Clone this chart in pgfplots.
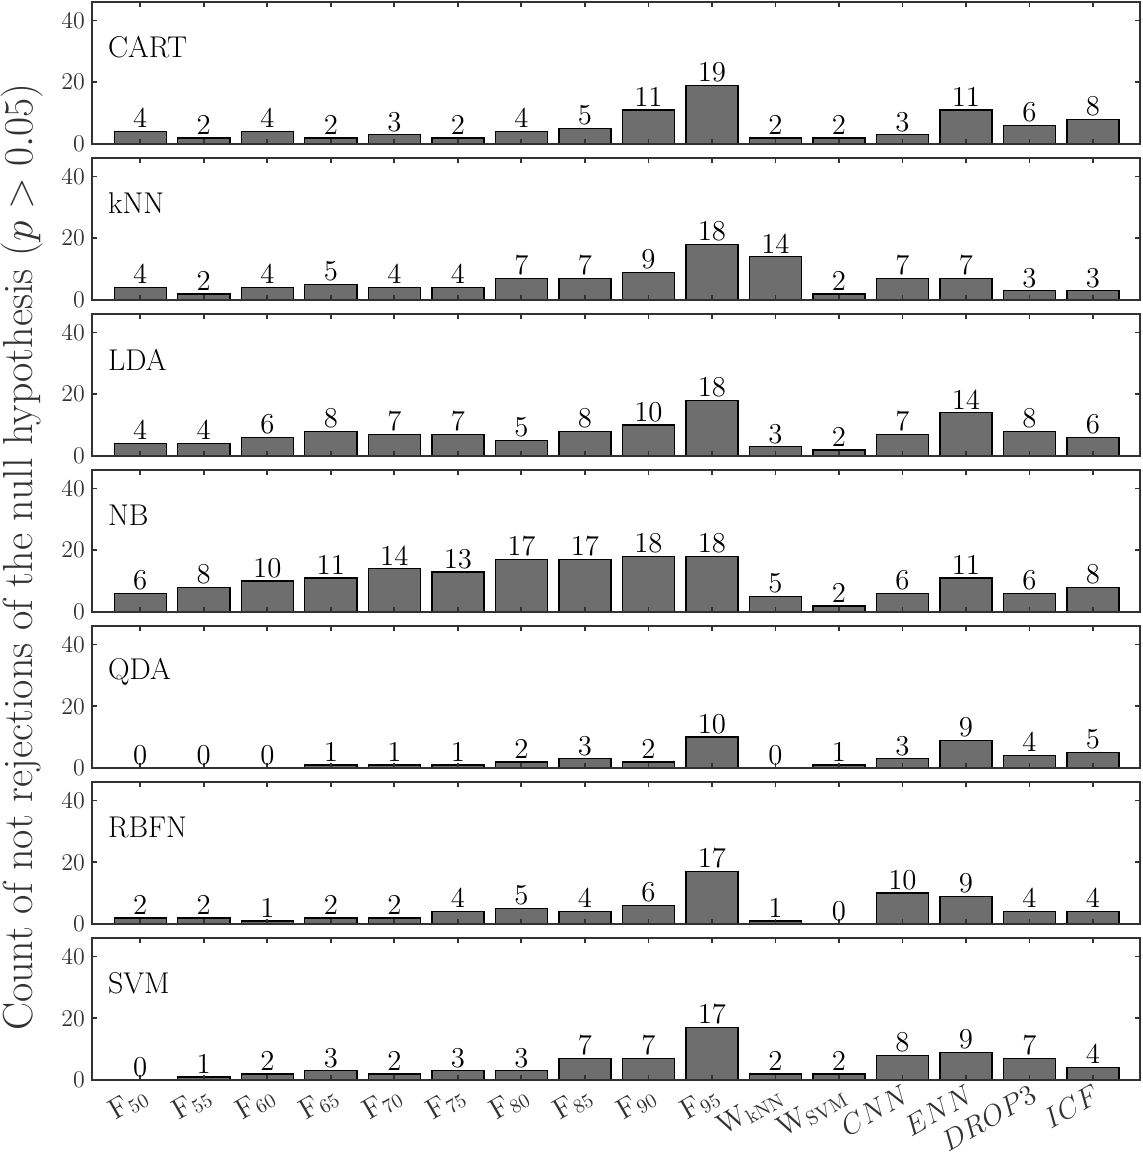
\documentclass[border=0pt]{standalone}
\usepackage{pgfplots}
\pgfplotsset{compat=1.18}
\definecolor{bargray}{RGB}{110,110,110}
\definecolor{axgray}{RGB}{50,50,50}
\pgfplotsset{panel/.style={
  width=524pt, height=71pt, scale only axis,
  ymin=0, ymax=46, xmin=-0.76, xmax=15.74,
  ybar, bar width=0.82, bar shift=0pt,
  ytick={0,20,40}, xtick={0,...,15}, xticklabels={},
  tick align=inside, tick pos=both,
  major tick length=2.4pt,
  axis line style={draw=axgray, line width=1pt},
  every tick/.style={draw=axgray, line width=0.9pt},
  axis on top,
  nodes near coords,
  nodes near coords style={font=\fontsize{15.5}{16}\selectfont, inner sep=1.5pt, text=black},
  yticklabel style={font=\fontsize{12}{12}\selectfont, text=axgray},
  clip=false,
  anchor=north west,
}}
\newcommand{\panelname}[1]{\node[anchor=west, font=\fontsize{15}{15}\selectfont, inner sep=0pt] at (rel axis cs:0.015,0.68) {#1};}
\begin{document}
\begin{tikzpicture}
\begin{axis}[panel, at={(0pt,0pt)}]
\addplot[fill=bargray, draw=black, line width=0.7pt] coordinates {(0,4) (1,2) (2,4) (3,2) (4,3) (5,2) (6,4) (7,5) (8,11) (9,19) (10,2) (11,2) (12,3) (13,11) (14,6) (15,8)};
\panelname{CART}
\end{axis}
\begin{axis}[panel, at={(0pt,-78pt)}]
\addplot[fill=bargray, draw=black, line width=0.7pt] coordinates {(0,4) (1,2) (2,4) (3,5) (4,4) (5,4) (6,7) (7,7) (8,9) (9,18) (10,14) (11,2) (12,7) (13,7) (14,3) (15,3)};
\panelname{kNN}
\end{axis}
\begin{axis}[panel, at={(0pt,-156pt)}]
\addplot[fill=bargray, draw=black, line width=0.7pt] coordinates {(0,4) (1,4) (2,6) (3,8) (4,7) (5,7) (6,5) (7,8) (8,10) (9,18) (10,3) (11,2) (12,7) (13,14) (14,8) (15,6)};
\panelname{LDA}
\end{axis}
\begin{axis}[panel, at={(0pt,-234pt)}]
\addplot[fill=bargray, draw=black, line width=0.7pt] coordinates {(0,6) (1,8) (2,10) (3,11) (4,14) (5,13) (6,17) (7,17) (8,18) (9,18) (10,5) (11,2) (12,6) (13,11) (14,6) (15,8)};
\panelname{NB}
\end{axis}
\begin{axis}[panel, at={(0pt,-312pt)}]
\addplot[fill=bargray, draw=black, line width=0.7pt] coordinates {(0,0) (1,0) (2,0) (3,1) (4,1) (5,1) (6,2) (7,3) (8,2) (9,10) (10,0) (11,1) (12,3) (13,9) (14,4) (15,5)};
\panelname{QDA}
\end{axis}
\begin{axis}[panel, at={(0pt,-390pt)}]
\addplot[fill=bargray, draw=black, line width=0.7pt] coordinates {(0,2) (1,2) (2,1) (3,2) (4,2) (5,4) (6,5) (7,4) (8,6) (9,17) (10,1) (11,0) (12,10) (13,9) (14,4) (15,4)};
\panelname{RBFN}
\end{axis}
\begin{axis}[panel, at={(0pt,-468pt)},
  xticklabels={$\mathrm{F}_{50}$,$\mathrm{F}_{55}$,$\mathrm{F}_{60}$,$\mathrm{F}_{65}$,$\mathrm{F}_{70}$,$\mathrm{F}_{75}$,$\mathrm{F}_{80}$,$\mathrm{F}_{85}$,$\mathrm{F}_{90}$,$\mathrm{F}_{95}$,$\mathrm{W}_{\mathrm{kNN}}$,$\mathrm{W}_{\mathrm{SVM}}$,$CNN$,$ENN$,$DROP3$,$ICF$},
  xticklabel style={rotate=30, anchor=north east, font=\fontsize{14.5}{14.5}\selectfont, text=axgray, inner sep=1pt}]
\addplot[fill=bargray, draw=black, line width=0.7pt] coordinates {(0,0) (1,1) (2,2) (3,3) (4,2) (5,3) (6,3) (7,7) (8,7) (9,17) (10,2) (11,2) (12,8) (13,9) (14,7) (15,4)};
\panelname{SVM}
\end{axis}
\node[rotate=90, font=\fontsize{21}{21}\selectfont, text=axgray] at (-35pt,-277.5pt) {Count of not rejections of the null hypothesis ($p>0.05$)};
\pgfresetboundingbox
\useasboundingbox (-46pt,1pt) rectangle (525.5pt,-579.5pt);
\end{tikzpicture}
\end{document}
